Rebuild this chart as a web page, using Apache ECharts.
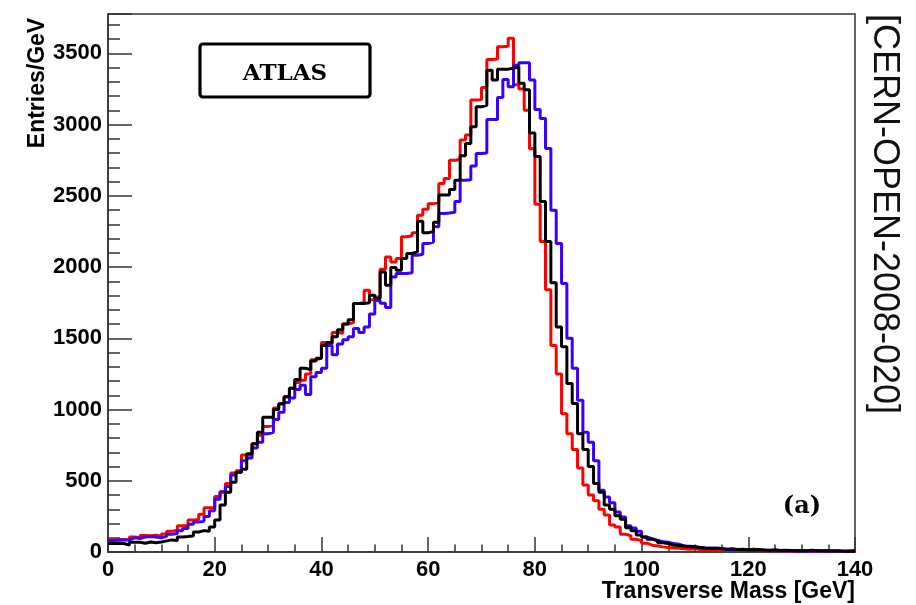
<!DOCTYPE html>
<html>
<head>
<meta charset="utf-8">
<script src="https://cdn.jsdelivr.net/npm/echarts@6/dist/echarts.min.js"></script>
<style>
html,body{margin:0;padding:0;background:#fff;}
#c{width:916px;height:605px;}
</style>
</head>
<body>
<div id="c"></div>
<script>
// Bin lower edges: 0..139 GeV, 1 GeV wide
const binStart = 0, binWidth = 1, nBins = 140;
const xTicks = [0, 20, 40, 60, 80, 100, 120, 140];
const yTicks = [0, 500, 1000, 1500, 2000, 2500, 3000, 3500];

const redValues = [
  85, 86, 88, 84, 105, 100, 115, 114, 118, 110,
  126, 145, 155, 185, 184, 225, 228, 265, 310, 312,
  390, 425, 480, 555, 570, 680, 682, 760, 820, 880,
  890, 1010, 1040, 1090, 1150, 1190, 1205, 1250, 1350, 1360,
  1470, 1460, 1540, 1535, 1600, 1610, 1744, 1750, 1837, 1770,
  1790, 1985, 2071, 2036, 2060, 2212, 2220, 2240, 2364, 2405,
  2445, 2455, 2587, 2622, 2750, 2755, 2891, 2926, 3172, 3175,
  3261, 3457, 3460, 3546, 3550, 3605, 3280, 3250, 3100, 2830,
  2440, 2180, 1840, 1450, 1250, 970, 830, 720, 590, 470,
  400, 360, 300, 260, 190, 175, 125, 115, 90, 80,
  62, 48, 42, 36, 32, 28, 26, 22, 20, 22,
  18, 16, 15, 14, 16, 12, 12, 10, 13, 11,
  22, 10, 9, 8, 9, 7, 8, 7, 6, 10,
  6, 7, 5, 6, 5, 6, 4, 5, 4, 5
];
const blueValues = [
  80, 85, 85, 86, 100, 95, 105, 108, 105, 100,
  110, 125, 130, 150, 165, 195, 210, 215, 250, 290,
  370, 420, 460, 540, 560, 640, 660, 730, 770, 830,
  840, 930, 980, 1050, 1080, 1140, 1170, 1105, 1230, 1260,
  1290, 1450, 1385, 1460, 1490, 1510, 1568, 1540, 1580, 1670,
  1765, 1745, 1716, 1930, 1955, 1955, 1960, 2083, 2090, 2165,
  2175, 2282, 2376, 2380, 2385, 2460, 2609, 2612, 2710, 2797,
  2800, 3035, 3035, 3190, 3317, 3265, 3416, 3433, 3433, 3312,
  3106, 3043, 2832, 2399, 2165, 1884, 1500, 1290, 1065, 840,
  770, 640, 433, 386, 345, 281, 246, 185, 168, 145,
  105, 94, 82, 72, 68, 59, 55, 42, 40, 38,
  30, 28, 27, 26, 25, 18, 16, 17, 14, 15,
  13, 12, 14, 10, 11, 9, 10, 8, 9, 7,
  8, 6, 9, 7, 6, 8, 5, 6, 5, 12
];
const blackValues = [
  60, 62, 60, 48, 68, 68, 62, 70, 65, 70,
  78, 85, 80, 105, 108, 112, 140, 150, 145, 175,
  225, 330, 420, 490, 560, 580, 690, 760, 840, 945,
  945, 1000, 1040, 1090, 1150, 1210, 1290, 1280, 1340, 1360,
  1450, 1470, 1510, 1560, 1600, 1630, 1744, 1744, 1750, 1802,
  1780, 1966, 1872, 1997, 1978, 2060, 2095, 2107, 2322, 2240,
  2250, 2315, 2505, 2505, 2544, 2610, 2781, 2867, 2984, 3125,
  3136, 3382, 3312, 3389, 3389, 3395, 3406, 3290, 3245, 2940,
  2775, 2460, 2180, 1890, 1580, 1440, 1182, 1042, 830, 720,
  600, 480, 420, 330, 300, 255, 230, 170, 150, 120,
  105, 90, 80, 65, 60, 48, 45, 42, 36, 35,
  32, 28, 27, 26, 25, 20, 22, 18, 19, 16,
  15, 17, 14, 12, 16, 10, 12, 11, 9, 10,
  8, 12, 9, 8, 10, 7, 8, 6, 7, 6
];

function histPoints(vals) {
  const pts = vals.map((v, i) => [binStart + i * binWidth, v]);
  pts.push([binStart + vals.length * binWidth, vals[vals.length - 1]]);
  return pts;
}

const yMax = 3776;
const axisColor = '#333';
const labelFont = {fontFamily: 'Liberation Sans', fontWeight: 'bold', fontSize: 22, color: '#000'};

const chart = echarts.init(document.getElementById('c'), null, {renderer: 'canvas'});
chart.setOption({
  animation: false,
  backgroundColor: '#fff',
  grid: {left: 108, top: 14, right: 61, bottom: 53, show: true, borderColor: axisColor, borderWidth: 1.5, backgroundColor: 'transparent'},
  xAxis: [{
    type: 'value', min: 0, max: 140, interval: 20,
    axisLine: {show: true, onZero: false, lineStyle: {color: axisColor, width: 1.5}},
    axisTick: {show: true, inside: true, length: 15, lineStyle: {color: axisColor, width: 1.5}},
    minorTick: {show: true, splitNumber: 4, length: 7.5, lineStyle: {color: axisColor, width: 1.5}},
    splitLine: {show: false},
    axisLabel: Object.assign({margin: 7, formatter: v => xTicks.includes(v) ? String(v) : ''}, labelFont)
  }],
  yAxis: [{
    type: 'value', min: 0, max: yMax, interval: 100,
    axisLine: {show: true, onZero: false, lineStyle: {color: axisColor, width: 1.5}},
    axisTick: {show: true, inside: true, length: 12, lineStyle: {color: axisColor, width: 1.5}},
    splitLine: {show: false},
    axisLabel: Object.assign({margin: 6, formatter: v => yTicks.includes(v) ? String(v) : ''}, labelFont)
  }, {
    type: 'value', min: 0, max: yMax, interval: 500, position: 'left',
    axisLine: {show: false},
    axisTick: {show: true, inside: true, length: 24, lineStyle: {color: axisColor, width: 1.5}},
    splitLine: {show: false},
    axisLabel: {show: false}
  }],
  series: [
    {name: 'red', type: 'line', step: 'end', data: histPoints(redValues), showSymbol: false, symbol: 'none',
     lineStyle: {color: '#ff0000', width: 3}, z: 2},
    {name: 'blue', type: 'line', step: 'end', data: histPoints(blueValues), showSymbol: false, symbol: 'none',
     lineStyle: {color: '#3a00ff', width: 3}, z: 3},
    {name: 'black', type: 'line', step: 'end', data: histPoints(blackValues), showSymbol: false, symbol: 'none',
     lineStyle: {color: '#000000', width: 3}, z: 4}
  ],
  graphic: [
    {type: 'rect', shape: {x: 200, y: 44, width: 170, height: 53, r: 3},
     style: {fill: '#fff', stroke: '#000', lineWidth: 3.2}, z: 10},
    {type: 'text', x: 285, y: 74, z: 11,
     style: {text: 'ATLAS', fill: '#000', fontFamily: 'DejaVu Serif', fontWeight: 'bold', fontSize: 23, textAlign: 'center', textVerticalAlign: 'middle'}},
    {type: 'text', x: 802, y: 507, z: 11,
     style: {text: '(a)', fill: '#000', fontFamily: 'DejaVu Serif', fontWeight: 'bold', fontSize: 24, textAlign: 'center', textVerticalAlign: 'middle'}},
    {type: 'text', x: 855, y: 592, z: 11,
     style: {text: 'Transverse Mass [GeV]', fill: '#000', fontFamily: 'Liberation Sans', fontWeight: 'bold', fontSize: 23, textAlign: 'right', textVerticalAlign: 'middle'}},
    {type: 'text', x: 38, y: 83, rotation: Math.PI / 2, z: 11,
     style: {text: 'Entries/GeV', fill: '#000', fontFamily: 'Liberation Sans', fontWeight: 'bold', fontSize: 23, textAlign: 'center', textVerticalAlign: 'middle'}},
    {type: 'text', x: 884, y: 214, rotation: -Math.PI / 2, z: 11,
     style: {text: '[CERN-OPEN-2008-020]', fill: '#111', fontFamily: 'Liberation Sans', fontSize: 36, textAlign: 'center', textVerticalAlign: 'middle'}}
  ]
});
</script>
</body>
</html>
